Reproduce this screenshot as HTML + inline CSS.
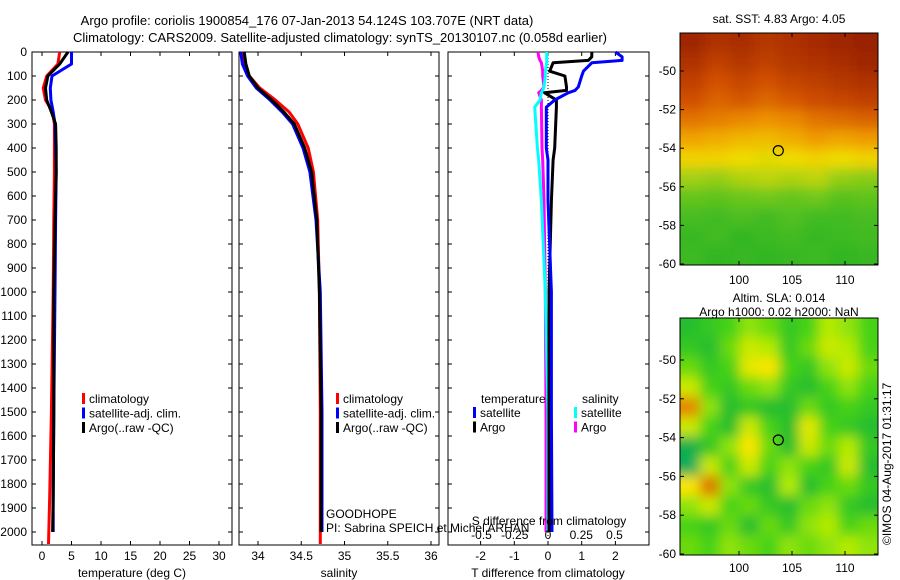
<!DOCTYPE html>
<html><head><meta charset="utf-8"><style>
html,body{margin:0;padding:0;background:#fff}
svg{display:block;font-family:"Liberation Sans",sans-serif}
</style></head><body>
<svg id="c" width="900" height="580" viewBox="0 0 900 580" xmlns="http://www.w3.org/2000/svg">
<defs>
<filter id="bl" x="-5%" y="-5%" width="110%" height="110%"><feGaussianBlur stdDeviation="6"/></filter>
<clipPath id="cm1"><rect x="680" y="33" width="198" height="232"/></clipPath>
<clipPath id="cm2"><rect x="680" y="318" width="198" height="237"/></clipPath>
</defs>
</svg>
<script>
// ---- data ----
const depths = [0,50,100,150,200,250,300,400,500,700,1000,1500,1850,2000];
const depthsClim = [0,50,100,150,200,250,300,400,500,700,1000,1500,1850,2050];
const tempClim = [3.0,2.7,0.8,0.2,0.6,1.8,2.1,2.1,2.1,2.0,1.9,1.6,1.3,1.1];
const tempSat = [5.0,5.0,1.7,1.4,1.5,1.9,2.2,2.3,2.4,2.3,2.2,2.0,1.9,1.9];
const tempArgo = [4.4,3.0,1.0,0.6,0.8,1.6,2.3,2.4,2.4,2.2,2.0,2.0,1.9,1.8];
const salClim = [33.82,33.84,33.9,34.02,34.2,34.36,34.46,34.58,34.64,34.69,34.71,34.72,34.72,34.72];
const salSat = [33.8,33.82,33.88,33.98,34.14,34.28,34.4,34.52,34.6,34.67,34.72,34.74,34.74,34.74];
const salArgo = [33.84,33.86,33.9,34.0,34.16,34.3,34.42,34.54,34.62,34.68,34.71,34.73,34.73,34.73];
const dDepths = [0,20,35,45,80,100,146,160,170,200,230,400,450,620,1000,1500,2000];
const tdiffSat = [2.0,2.2,2.2,1.3,1.05,1.0,0.9,0.8,0.6,0.2,-0.05,-0.05,0.0,0.0,0.1,0.1,0.12];
const tdiffArgo = [1.3,1.3,1.2,0.15,0.05,0.5,0.55,0.55,-0.1,0.25,0.25,0.2,0.15,0.1,0.03,0.03,0.03];
const sdiffSat = [-0.01,-0.01,-0.01,-0.01,-0.02,-0.02,-0.03,-0.04,-0.05,-0.06,-0.1,-0.08,-0.07,-0.05,-0.02,0.0,0.0];
const sdiffArgo = [-0.075,-0.07,-0.06,-0.05,-0.04,-0.04,-0.03,-0.05,-0.07,-0.05,-0.05,-0.045,-0.04,-0.03,-0.02,-0.015,-0.015];
const depthTicks = [0,100,200,300,400,500,600,700,800,900,1000,1100,1200,1300,1400,1500,1600,1700,1800,1900,2000];
const tempTicks = [0,5,10,15,20,25,30];
const salTicks = [34,34.5,35,35.5,36];
const tdTicks = [-2,-1,0,1,2];
const sdTicks = [-0.5,-0.25,0,0.25,0.5];
const latTicks = [-50,-52,-54,-56,-58,-60];
const lonTicks = [100,105,110];
const sstGrid = [
[0.97,0.92,0.94,0.9,0.92,0.95,0.97,0.99],
[0.92,0.86,0.9,0.86,0.9,0.92,0.94,0.97],
[0.86,0.8,0.84,0.8,0.85,0.87,0.9,0.92],
[0.8,0.76,0.78,0.75,0.78,0.82,0.84,0.86],
[0.72,0.7,0.68,0.66,0.68,0.72,0.74,0.76],
[0.62,0.6,0.58,0.57,0.6,0.64,0.62,0.64],
[0.52,0.52,0.5,0.48,0.5,0.52,0.5,0.52],
[0.38,0.36,0.4,0.42,0.4,0.42,0.36,0.34],
[0.26,0.24,0.28,0.3,0.26,0.3,0.22,0.24],
[0.16,0.14,0.18,0.14,0.2,0.14,0.14,0.16],
[0.1,0.14,0.08,0.12,0.14,0.1,0.12,0.14],
[0.12,0.08,0.1,0.08,0.1,0.12,0.08,0.1]];
const slaGrid = [
[0.3,0.35,0.4,0.5,0.45,0.35,0.4,0.55,0.5,0.4],
[0.35,0.3,0.45,0.6,0.55,0.35,0.45,0.6,0.55,0.4],
[0.45,0.35,0.4,0.65,0.7,0.4,0.35,0.5,0.6,0.45],
[0.6,0.4,0.35,0.45,0.5,0.35,0.3,0.4,0.5,0.4],
[0.85,0.5,0.3,0.35,0.3,0.3,0.45,0.35,0.4,0.35],
[0.6,0.4,0.3,0.6,0.4,0.3,0.65,0.4,0.35,0.3],
[0.2,0.35,0.5,0.7,0.45,0.3,0.6,0.45,0.55,0.35],
[0.15,0.6,0.4,0.6,0.4,0.5,0.4,0.35,0.6,0.3],
[0.7,0.9,0.5,0.35,0.3,0.55,0.3,0.4,0.45,0.35],
[0.5,0.6,0.4,0.45,0.35,0.3,0.45,0.5,0.35,0.3],
[0.4,0.35,0.45,0.3,0.45,0.35,0.5,0.55,0.4,0.45],
[0.45,0.4,0.5,0.45,0.4,0.5,0.45,0.5,0.55,0.5]];
const argoLon = 103.707, argoLat = -54.124;

// ---- helpers ----
const svg = document.getElementById('c');
const NS = 'http://www.w3.org/2000/svg';
function mk(tag, attrs, parent){const e=document.createElementNS(NS,tag);for(const k in attrs)e.setAttribute(k,attrs[k]);(parent||svg).appendChild(e);return e;}
function txt(x,y,s,anchor,size,parent){const t=mk('text',{x:x,y:y,'font-size':size||12,'text-anchor':anchor||'start',fill:'#000'},parent);t.textContent=s;return t;}
const yD = d => 52 + d*0.24;
const xT = t => 42 + t*5.9;
const xS = s => 258 + (s-34)*86.5;
const xTD = d => 548 + d*33.7;
const xSD = d => 548 + d*133;
const xLon = l => 739 + (l-100)*10.6;
const yLat1 = l => 71 + (-50-l)*19.3;
const yLat2 = l => 360 + (-50-l)*19.4;

let t;
t=txt(307,25,'Argo profile: coriolis 1900854_176 07-Jan-2013 54.124S 103.707E (NRT data)','middle',13);


t=txt(340,42,'Climatology: CARS2009. Satellite-adjusted climatology: synTS_20130107.nc (0.058d earlier)','middle',13);



function panel(x0,x1,name){
  const g=mk('g',{});
  
  
  mk('rect',{x:x0,y:52,width:x1-x0,height:493,fill:'none',stroke:'#000','stroke-width':1},g);
  depthTicks.forEach(d=>{const y=yD(d);mk('line',{x1:x0,x2:x0+4,y1:y,y2:y,stroke:'#000'},g);mk('line',{x1:x1-4,x2:x1,y1:y,y2:y,stroke:'#000'},g);});
  return g;
}
function line(xs,ds,fx,color,name,parent,w){
  const pts=xs.map((v,i)=>fx(v).toFixed(1)+','+yD(ds[i]).toFixed(1)).join(' ');
  const p=mk('polyline',{points:pts,fill:'none',stroke:color,'stroke-width':w||3,'stroke-linejoin':'round'},parent);
  
  
}
function xticks(g,ticks,fx,labY){
  ticks.forEach(v=>{const x=fx(v);mk('line',{x1:x,x2:x,y1:545,y2:541,stroke:'#000'},g);mk('line',{x1:x,x2:x,y1:52,y2:56,stroke:'#000'},g);txt(x,labY,String(v),'middle',12,g);});
}
function legend(g,x,y,items){
  items.forEach((it,i)=>{mk('rect',{x:x,y:y+i*14.5-10,width:3,height:11,fill:it[1]},g);txt(x+7,y+i*14.5,it[0],'start',12,g);});
}

// panel 1
const p1=panel(32,232,'temperature-panel');
depthTicks.forEach(d=>txt(27,yD(d)+4,String(d),'end',12,p1));
xticks(p1,tempTicks,xT,560);
txt(132,577,'temperature (deg C)','middle',12,p1);
line(tempClim,depthsClim,xT,'#f00','temp-climatology-line',p1);
line(tempSat,depths,xT,'#00f','temp-satellite-line',p1);
line(tempArgo,depths,xT,'#000','temp-argo-line',p1);
legend(p1,82,403,[['climatology','#f00'],['satellite-adj. clim.','#00f'],['Argo(..raw -QC)','#000']]);

// panel 2
const p2=panel(239,439,'salinity-panel');
xticks(p2,salTicks,xS,560);
txt(339,577,'salinity','middle',12,p2);
line(salClim,depthsClim,xS,'#f00','sal-climatology-line',p2);
line(salSat,depths,xS,'#00f','sal-satellite-line',p2);
line(salArgo,depths,xS,'#000','sal-argo-line',p2);
legend(p2,336,403,[['climatology','#f00'],['satellite-adj. clim.','#00f'],['Argo(..raw -QC)','#000']]);

// panel 3
const p3=panel(448,649,'difference-panel');
mk('line',{x1:548,x2:548,y1:52,y2:545,stroke:'#000','stroke-dasharray':'1,2'},p3);
tdTicks.forEach(v=>{const x=xTD(v);mk('line',{x1:x,x2:x,y1:52,y2:56,stroke:'#000'},p3);mk('line',{x1:x,x2:x,y1:545,y2:541,stroke:'#000'},p3);txt(x,560,String(v),'middle',12,p3);});
txt(548,577,'T difference from climatology','middle',12,p3);
line(sdiffArgo,dDepths,xSD,'#f0f','sdiff-argo-line',p3);
line(sdiffSat,dDepths,xSD,'#0ff','sdiff-satellite-line',p3);
line(tdiffArgo,dDepths,xTD,'#000','tdiff-argo-line',p3);
line(tdiffSat,dDepths,xTD,'#00f','tdiff-satellite-line',p3);
const lg=mk('g',{},p3);


txt(481,403,'temperature','start',12,lg);
txt(582,403,'salinity','start',12,lg);
legend(lg,473,417,[['satellite','#00f'],['Argo','#000']]);
legend(lg,574,417,[['satellite','#0ff'],['Argo','#f0f']]);

// credits
t=txt(326,518,'GOODHOPE','start',12);


t=txt(326,532,'PI: Sabrina SPEICH et Michel ARHAN','start',12);



// S axis (drawn above credits)
const sg=mk('g',{});


txt(549,525,'S difference from climatology','middle',12,sg);
sdTicks.forEach(v=>txt(xSD(v),539,String(v),'middle',12,sg));

// maps
function cmapSST(v){const s=[[0,30,175,35],[0.3,110,200,30],[0.5,240,220,0],[0.65,240,150,0],[0.8,210,80,0],[1,150,30,0]];return interp(s,v);}
function cmapSLA(v){const s=[[0,0,160,140],[0.25,20,180,60],[0.4,70,210,20],[0.55,180,235,0],[0.7,250,230,0],[0.85,230,130,0],[1,200,80,0]];return interp(s,v);}
function interp(s,v){for(let i=1;i<s.length;i++){if(v<=s[i][0]){const a=s[i-1],b=s[i],f=(v-a[0])/(b[0]-a[0]);return 'rgb('+[1,2,3].map(k=>Math.round(a[k]+(b[k]-a[k])*f)).join(',')+')';}}const l=s[s.length-1];return 'rgb('+l[1]+','+l[2]+','+l[3]+')';}
function map(grid,cmap,x0,y0,w,h,clip,yLat,name,titles,titleYs,labY){
  const g=mk('g',{});
  
  
  const cg=mk('g',{'clip-path':'url(#'+clip+')'},g);
  const inner=mk('g',{filter:'url(#bl)'},cg);
  const rows=grid.length, cols=grid[0].length, cw=w/cols, ch=h/rows;
  mk('rect',{x:x0-20,y:y0-20,width:w+40,height:h+40,fill:cmap(grid[rows-1][0])},inner);
  grid.forEach((r,i)=>r.forEach((v,j)=>{
    const c=mk('rect',{x:(x0+j*cw-(j==0?15:0)).toFixed(1),y:(y0+i*ch-(i==0?15:0)).toFixed(1),width:(cw+1+(j==0||j==cols-1?15:0)).toFixed(1),height:(ch+1+(i==0||i==rows-1?15:0)).toFixed(1),fill:cmap(v)},inner);
    
    
  }));
  mk('rect',{x:x0,y:y0,width:w,height:h,fill:'none',stroke:'#000'},g);
  latTicks.forEach(l=>{const y=yLat(l);mk('line',{x1:x0,x2:x0+4,y1:y,y2:y,stroke:'#000'},g);mk('line',{x1:x0+w-4,x2:x0+w,y1:y,y2:y,stroke:'#000'},g);txt(x0-4,y+4,String(l),'end',12,g);});
  lonTicks.forEach(l=>{const x=xLon(l);mk('line',{x1:x,x2:x,y1:y0+h,y2:y0+h-4,stroke:'#000'},g);mk('line',{x1:x,x2:x,y1:y0,y2:y0+4,stroke:'#000'},g);txt(x,labY,String(l),'middle',12,g);});
  const m=mk('circle',{cx:xLon(argoLon),cy:yLat(argoLat),r:5,fill:'none',stroke:'#000','stroke-width':1.2},g);
  
  
  titles.forEach((s,i)=>txt(x0+w/2,titleYs[i],s,'middle',12,g));
}
map(sstGrid,cmapSST,680,33,198,232,'cm1',yLat1,'sst-map',['sat. SST: 4.83 Argo: 4.05'],[23],284);
map(slaGrid,cmapSLA,680,318,198,237,'cm2',yLat2,'sla-map',['Altim. SLA: 0.014','Argo h1000: 0.02 h2000: NaN'],[302,316],572);

t=mk('text',{x:0,y:0,'font-size':12,transform:'translate(891,545) rotate(-90)',fill:'#000'});
t.textContent='©IMOS 04-Aug-2017 01:31:17';


</script>
</body></html>
